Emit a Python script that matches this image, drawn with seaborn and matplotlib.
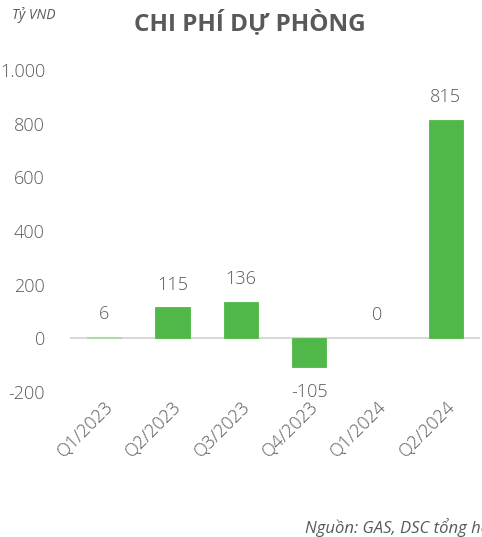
import matplotlib
matplotlib.use("Agg")
import matplotlib.pyplot as plt
import seaborn as sns
import pandas as pd

categories = ["Q1/2023", "Q2/2023", "Q3/2023", "Q4/2023", "Q1/2024", "Q2/2024"]
values = [6, 115, 136, -105, 0, 815]
yticks = [-200, 0, 200, 400, 600, 800, 1000]
ytick_labels = ["-200", "0", "200", "400", "600", "800", "1.000"]

sns.set_theme(style="white")
plt.rcParams['font.family'] = ['Open Sans', 'DejaVu Sans']

df = pd.DataFrame({"cat": categories, "val": values})
fig = plt.figure(figsize=(4.82, 5.37), dpi=100)
ax = fig.add_axes([70/482, 1-392/537, 410/482, 322/537])
ax.axhline(0, color="#d9d9d9", lw=1.5, zorder=1)
sns.barplot(data=df, x="cat", y="val", color="#50b848", saturation=1, width=0.5, ax=ax,
            zorder=3, edgecolor="#50b848", linewidth=0.6)
for patch, v in zip(ax.patches, values):
    if v == 0:
        patch.set_linewidth(0)
    elif abs(v) < 20:
        patch.set_facecolor("#a8dba4")
        patch.set_edgecolor("#a8dba4")

ax.set_ylim(-200, 1000)
ax.set_xlim(-0.5, 5.5)
ax.set_yticks(yticks)
ax.set_yticklabels(ytick_labels, fontsize=13, color="#595959", fontweight="light")
ax.set_xticks(range(len(categories)))
ax.set_xticklabels(categories, rotation=45, ha="right", rotation_mode="anchor",
                   fontsize=13, color="#595959", fontweight="light")
ax.tick_params(axis="both", length=0, pad=6)
ax.tick_params(axis="x", pad=4)
ax.tick_params(axis="y", pad=18)
ax.set_xlabel("")
ax.set_ylabel("")
for s in ax.spines.values():
    s.set_visible(False)

for i, v in enumerate(values):
    if v >= 0:
        ax.annotate(f"{v}", (i, v), xytext=(0, 10), textcoords="offset points",
                    ha="center", va="bottom", fontsize=13, color="#595959", fontweight="light")
    else:
        ax.annotate(f"{v}", (i, v), xytext=(0, -12), textcoords="offset points",
                    ha="center", va="top", fontsize=13, color="#595959", fontweight="light")

fig.text(250/482, 1-23/537, "CHI PHÍ DỰ PHÒNG", ha="center", va="center",
         fontsize=17.5, fontweight="bold", color="#595959")
fig.text(12/482, 1-15/537, "Tỷ VND", ha="left", va="center", fontsize=10,
         style="italic", color="#595959")
fig.text(305/482, 1-528/537, "Nguồn: GAS, DSC tổng hợp", ha="left", va="center",
         fontsize=12, style="italic", color="#595959")

fig.savefig("out.png", dpi=100)
